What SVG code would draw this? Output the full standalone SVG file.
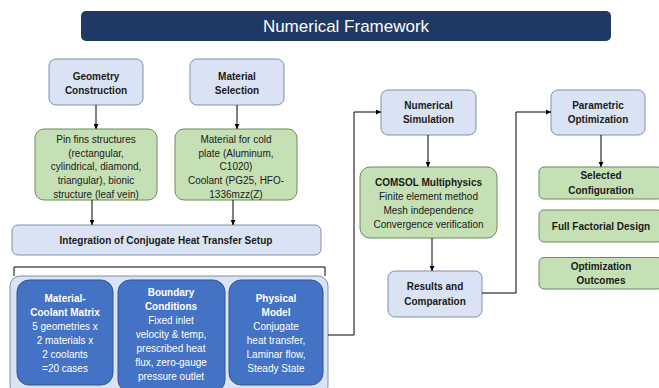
<svg xmlns="http://www.w3.org/2000/svg" width="659" height="388" viewBox="0 0 659 388">
<defs>
<marker id="ah" viewBox="0 0 10 10" refX="10" refY="5" markerWidth="5" markerHeight="5" orient="auto" markerUnits="userSpaceOnUse">
<path d="M0,0 L10,5 L0,10 z" fill="#000"/>
</marker>
<style>
.lb{fill:#dae3f3;stroke:#7f8fa9;stroke-width:1}
.gr{fill:#c5e0b4;stroke:#6c8a5c;stroke-width:1}
.bl{fill:#4472c4;stroke:#2f5597;stroke-width:1}
text{font-family:"Liberation Sans",Arial,sans-serif;text-anchor:middle;font-size:10px;fill:#1a1a1a}
.b{font-weight:bold;font-size:10px}
.w{fill:#fff}
.c{fill:none;stroke:#000;stroke-width:1}
.t{fill:#fff;font-size:17px}
</style>
</defs>
<rect width="659" height="388" fill="#fff"/>
<g id="title">
<rect x="81" y="11" width="530" height="30" rx="5" fill="#203864"/>
<text class="t" x="346" y="32">Numerical Framework</text>
</g>
<g id="geometry">
<rect class="lb" x="49" y="59" width="94" height="46" rx="7"/>
<text class="b" x="96" y="79.5">Geometry</text>
<text class="b" x="96" y="93.5">Construction</text>
</g>
<g id="material">
<rect class="lb" x="190" y="59" width="94" height="46" rx="7"/>
<text class="b" x="237" y="79.5">Material</text>
<text class="b" x="237" y="93.5">Selection</text>
</g>
<g id="pinfins">
<rect class="gr" x="35" y="129" width="122" height="71" rx="9"/>
<text x="96" y="142.5">Pin fins structures</text>
<text x="96" y="156.5">(rectangular,</text>
<text x="96" y="170">cylindrical, diamond,</text>
<text x="96" y="184">triangular), bionic</text>
<text x="96" y="198">structure (leaf vein)</text>
</g>
<g id="materials">
<rect class="gr" x="175" y="129" width="122" height="71" rx="9"/>
<text x="236" y="142.5">Material for cold</text>
<text x="236" y="156.5">plate (Aluminum,</text>
<text x="236" y="170">C1020)</text>
<text x="236" y="184">Coolant (PG25, HFO-</text>
<text x="236" y="198">1336mzz(Z)</text>
</g>
<g id="integration">
<rect class="lb" x="12" y="225" width="309" height="30" rx="6"/>
<text class="b" x="166" y="243.5">Integration of Conjugate Heat Transfer Setup</text>
</g>
<g id="setup">
<rect class="lb" x="10" y="276" width="318" height="120" rx="10"/>
</g>
<g id="matrix">
<rect class="bl" x="17" y="280" width="96" height="105" rx="12"/>
<text class="b w" x="65" y="301.5">Material-</text>
<text class="b w" x="65" y="315.5">Coolant Matrix</text>
<text class="w" x="65" y="329.5">5 geometries x</text>
<text class="w" x="65" y="343.5">2 materials x</text>
<text class="w" x="65" y="357.5">2 coolants</text>
<text class="w" x="65" y="371.5">=20 cases</text>
</g>
<g id="boundary">
<rect class="bl" x="118" y="280" width="107" height="112" rx="12"/>
<text class="b w" x="171" y="295.5">Boundary</text>
<text class="b w" x="171" y="309.5">Conditions</text>
<text class="w" x="171" y="323.5">Fixed inlet</text>
<text class="w" x="171" y="337.5">velocity &amp; temp,</text>
<text class="w" x="171" y="351.5">prescribed heat</text>
<text class="w" x="171" y="365.5">flux, zero-gauge</text>
<text class="w" x="171" y="379.5">pressure outlet</text>
</g>
<g id="physical">
<rect class="bl" x="229" y="280" width="94" height="105" rx="12"/>
<text class="b w" x="276" y="301.5">Physical</text>
<text class="b w" x="276" y="315.5">Model</text>
<text class="w" x="276" y="329.5">Conjugate</text>
<text class="w" x="276" y="343.5">heat transfer,</text>
<text class="w" x="276" y="357.5">Laminar flow,</text>
<text class="w" x="276" y="371.5">Steady State</text>
</g>
<g id="numsim">
<rect class="lb" x="381" y="90" width="95" height="45" rx="7"/>
<text class="b" x="428.5" y="108.5">Numerical</text>
<text class="b" x="428.5" y="122.5">Simulation</text>
</g>
<g id="comsol">
<rect class="gr" x="360" y="167" width="137" height="71" rx="10"/>
<text class="b" x="428.5" y="185.5">COMSOL Multiphysics</text>
<text x="428.5" y="199.5">Finite element method</text>
<text x="428.5" y="213.5">Mesh independence</text>
<text x="428.5" y="227.5">Convergence verification</text>
</g>
<g id="results">
<rect class="lb" x="388" y="271" width="94" height="46" rx="7"/>
<text class="b" x="435" y="290">Results and</text>
<text class="b" x="435" y="305">Comparation</text>
</g>
<g id="paramopt">
<rect class="lb" x="551" y="90" width="94" height="45" rx="7"/>
<text class="b" x="598" y="108.5">Parametric</text>
<text class="b" x="598" y="122.5">Optimization</text>
</g>
<g id="selected">
<rect class="gr" x="539" y="167" width="124" height="32" rx="5"/>
<text class="b" x="601" y="179">Selected</text>
<text class="b" x="601" y="193.5">Configuration</text>
</g>
<g id="factorial">
<rect class="gr" x="539" y="210" width="124" height="32" rx="5"/>
<text class="b" x="601" y="230">Full Factorial Design</text>
</g>
<g id="outcomes">
<rect class="gr" x="539" y="257.5" width="124" height="31.5" rx="5"/>
<text class="b" x="601" y="270">Optimization</text>
<text class="b" x="601" y="284">Outcomes</text>
</g>
<g id="connectors">
<line class="c" x1="96" y1="105" x2="96" y2="129" marker-end="url(#ah)"/>
<line class="c" x1="237" y1="105" x2="237" y2="129" marker-end="url(#ah)"/>
<line class="c" x1="92" y1="200" x2="92" y2="225" marker-end="url(#ah)"/>
<line class="c" x1="233" y1="200" x2="233" y2="225" marker-end="url(#ah)"/>
<path class="c" d="M14,276 V267 H325 V276"/>
<path class="c" d="M328,335 H354 V112 H381" marker-end="url(#ah)"/>
<line class="c" x1="428" y1="135" x2="428" y2="167" marker-end="url(#ah)"/>
<line class="c" x1="432" y1="238" x2="432" y2="271" marker-end="url(#ah)"/>
<path class="c" d="M482,293 H516 V112 H551" marker-end="url(#ah)"/>
<line class="c" x1="601" y1="135" x2="601" y2="167" marker-end="url(#ah)"/>
</g>
</svg>
